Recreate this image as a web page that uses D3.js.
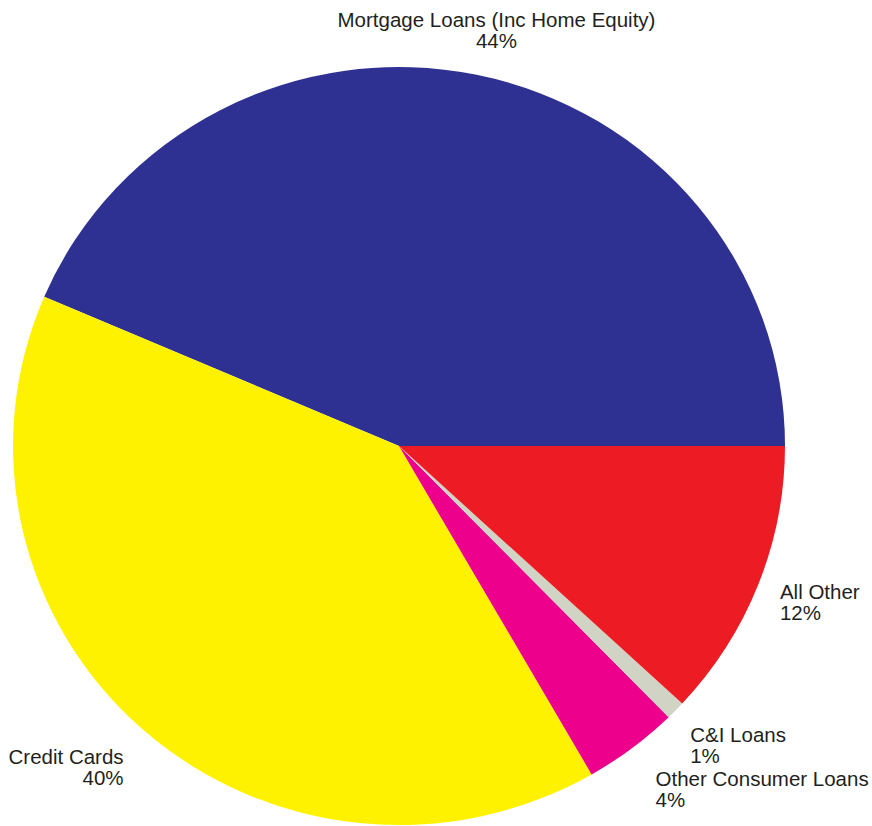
<!DOCTYPE html>
<html><head><meta charset="utf-8">
<script src="https://cdn.jsdelivr.net/npm/d3@7"></script>
<style>body{margin:0;background:#fff} svg{display:block}</style>
</head><body>
<script>
// ---- data ----
const categories = ["Mortgage Loans (Inc Home Equity)", "Credit Cards", "Other Consumer Loans", "C&I Loans", "All Other"];
const shares = [43.6, 39.8, 4.0, 0.8, 11.9];
const percentLabels = ["44%", "40%", "4%", "1%", "12%"];
const colors = ["#2E3192", "#FFF200", "#EC008C", "#D1D3C4", "#ED1C24"];

// ---- layout ----
const W = 872, H = 826, cx = 399, cy = 446, rx = 386, ry = 379;
const labelDist = [427, 423, 429, 418, 412];          // distance of label block from centre
const labelShiftDeg = [-1.6, 1.0, -0.4, -1.6, -1.0];  // small angular nudge (ccw degrees)
const labelAnchor = ["middle", "end", "start", "start", "start"];
const lineGap = 21;
const fontSize = 20.5;

const svg = d3.select("body").append("svg").attr("width", W).attr("height", H);

const pie = d3.pie().sort(null).value(d => d)
  .startAngle(Math.PI / 2).endAngle(Math.PI / 2 - 2 * Math.PI);
const arcs = pie(shares);
const arc = d3.arc().innerRadius(0).outerRadius(rx);

svg.append("g")
  .attr("transform", `translate(${cx},${cy}) scale(1,${ry / rx})`)
  .selectAll("path").data(arcs).join("path")
  .attr("d", arc)
  .attr("fill", (d, i) => colors[i]);

const labels = svg.append("g")
  .attr("font-family", "Liberation Sans, Arial, sans-serif")
  .attr("font-size", fontSize)
  .attr("fill", "#231F20");

arcs.forEach((d, i) => {
  const mid = (d.startAngle + d.endAngle) / 2 - labelShiftDeg[i] * Math.PI / 180;
  const x = cx + Math.sin(mid) * labelDist[i];
  const y = cy - Math.cos(mid) * labelDist[i];
  const t = labels.append("text")
    .attr("text-anchor", labelAnchor[i])
    .attr("x", x).attr("y", y - 3.5);
  t.append("tspan").attr("x", x).text(categories[i]);
  t.append("tspan").attr("x", x).attr("dy", lineGap).text(percentLabels[i]);
});
</script>
</body></html>
